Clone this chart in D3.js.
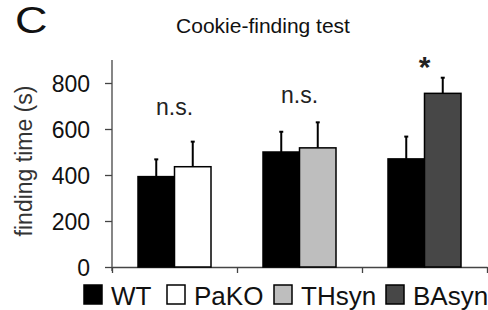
<!DOCTYPE html>
<html>
<head>
<meta charset="utf-8">
<script src="https://cdn.jsdelivr.net/npm/d3@7"></script>
<style>
  body { margin: 0; background: #fff; }
  text { font-family: "Liberation Sans", Arial, sans-serif; fill: #111; }
</style>
</head>
<body>
<div id="chart"></div>
<script>
// data
const groups = ["WT vs PaKO", "WT vs THsyn", "WT vs BAsyn"];
const series = ["WT", "PaKO", "THsyn", "BAsyn"];
const means = [[393, 436], [500, 518], [470, 755]];
const sems = [[75, 109], [88, 111], [97, 68]];
const barKeys = [["WT", "PaKO"], ["WT", "THsyn"], ["WT", "BAsyn"]];
const sigLabels = ["n.s.", "n.s.", "*"];
const sigAt = [662, 712, 828];
const yTicks = [0, 200, 400, 600, 800];

const colors = { WT: "#000", PaKO: "#fff", THsyn: "#bebebe", BAsyn: "#474747" };

const W = 488, H = 310;
const svg = d3.select("#chart").append("svg").attr("width", W).attr("height", H);

const y = d3.scaleLinear().domain([0, 900]).range([267, 60]);
const x = d3.scaleBand().domain(groups).range([112, 487]);
const xi = d3.scaleBand().domain([0, 1]).range([26, 99]);

// panel letter + title
svg.append("text").attr("transform", "translate(15,33) scale(1.25,1)")
  .style("font-size", "36px").text("C");
svg.append("text").attr("x", 263).attr("y", 33).attr("text-anchor", "middle")
  .style("font-size", "21px").text("Cookie-finding test");

// y axis
const yAxis = svg.append("g").attr("transform", "translate(112,0)")
  .call(d3.axisLeft(y).tickValues(yTicks).tickSize(7).tickPadding(15).tickSizeOuter(0));
yAxis.select(".domain").attr("d", "M0," + y(900) + "V" + (y(0) + 4));
yAxis.selectAll("line, path").attr("stroke", "#444").attr("stroke-width", 1.3);
yAxis.selectAll("text").style("font-size", "23px").attr("font-family", null).attr("fill", "#111")
  .attr("dy", "0.36em");

svg.append("text").attr("transform", "translate(32,161) rotate(-90)")
  .attr("text-anchor", "middle").style("font-size", "23px").style("fill", "#333")
  .text("finding time (s)");

// x axis: baseline with ticks at band edges
const xEdges = groups.map(g => x(g)).concat([x.range()[1]]);
const xAxis = svg.append("g").attr("transform", "translate(0," + y(0) + ")")
  .call(d3.axisBottom(d3.scaleLinear().domain(x.range()).range(x.range()))
    .tickValues(xEdges).tickSize(6).tickFormat("").tickSizeOuter(0));
xAxis.selectAll("line, path").attr("stroke", "#444").attr("stroke-width", 1.3);

// bars
const bars = [];
groups.forEach((g, gi) => barKeys[gi].forEach((k, j) =>
  bars.push({ g, j, key: k, v: means[gi][j], e: sems[gi][j] })));

const main = svg.append("g");
// error bars (drawn first so bar edge covers the stem base)
main.selectAll("line.err").data(bars).join("line").attr("class", "err")
  .attr("x1", d => x(d.g) + xi(d.j) + xi.bandwidth() / 2)
  .attr("x2", d => x(d.g) + xi(d.j) + xi.bandwidth() / 2)
  .attr("y1", d => y(d.v)).attr("y2", d => y(d.v + d.e))
  .attr("stroke", "#000").attr("stroke-width", 2);
main.selectAll("line.cap").data(bars).join("line").attr("class", "cap")
  .attr("x1", d => x(d.g) + xi(d.j) + xi.bandwidth() / 2 - 2)
  .attr("x2", d => x(d.g) + xi(d.j) + xi.bandwidth() / 2 + 2)
  .attr("y1", d => y(d.v + d.e)).attr("y2", d => y(d.v + d.e))
  .attr("stroke", "#000").attr("stroke-width", 2);

main.selectAll("rect").data(bars).join("rect")
  .attr("x", d => x(d.g) + xi(d.j))
  .attr("width", xi.bandwidth())
  .attr("y", d => y(d.v))
  .attr("height", d => y(0) - y(d.v))
  .attr("fill", d => colors[d.key])
  .attr("stroke", "#000").attr("stroke-width", 1.5);

// significance labels
svg.selectAll("text.sig").data(groups).join("text").attr("class", "sig")
  .attr("x", g => x(g) + x.bandwidth() / 2)
  .attr("y", (g, i) => y(sigAt[i]))
  .attr("text-anchor", "middle")
  .style("font-size", (g, i) => sigLabels[i] === "*" ? "30px" : "23px")
  .style("font-weight", (g, i) => sigLabels[i] === "*" ? "bold" : "normal")
  .style("fill", "#222")
  .text((g, i) => sigLabels[i]);

// legend
const legX = [84, 167, 274, 386];
const leg = svg.append("g").selectAll("g").data(series).join("g")
  .attr("transform", (d, i) => "translate(" + legX[i] + ",285)");
leg.append("rect").attr("width", 18).attr("height", 19)
  .attr("fill", d => colors[d]).attr("stroke", "#000").attr("stroke-width", 1.5);
leg.append("text").attr("x", 27).attr("y", 20).style("font-size", "26px").text(d => d);
</script>
</body>
</html>
